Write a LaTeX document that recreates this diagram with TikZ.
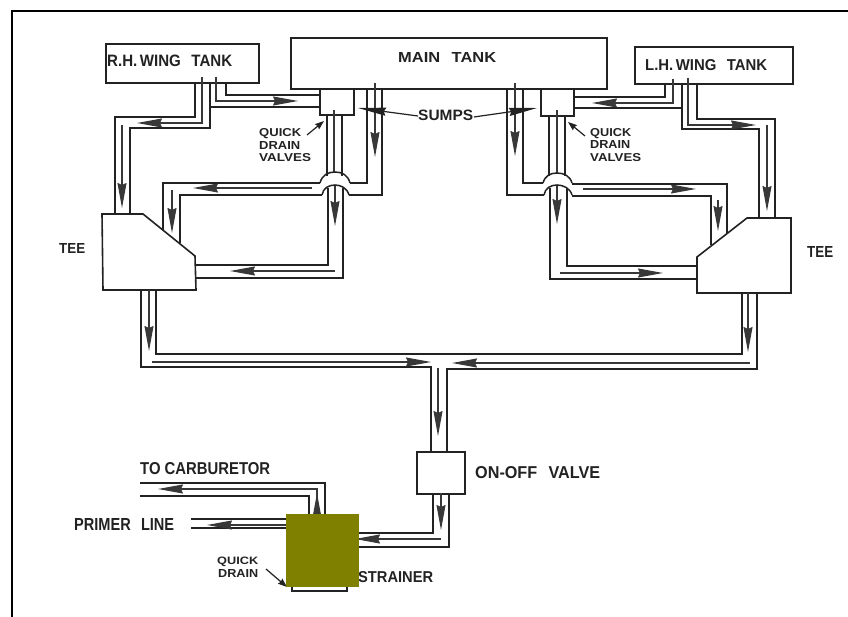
\documentclass[tikz,border=0pt]{standalone}
\usepackage{graphicx}
\usepackage{fontspec}
\setmainfont{Liberation Sans}
\usetikzlibrary{arrows.meta}
\definecolor{ink}{HTML}{222222}
\definecolor{oliveblock}{HTML}{808000}
\tikzset{
  x=1pt,y=-1pt,
  pipe/.style={draw=ink,line width=1.5pt,line join=miter},
  part/.style={draw=ink,line width=1.6pt,fill=white,inner sep=0pt,line join=miter},
  flow/.style={draw=ink!90,line width=1.2pt,-{Stealth[length=25pt,width=9pt,inset=2pt]}},
  flowonly/.style={draw=ink!90,line width=1.2pt},
  lead/.style={draw=ink,line width=1.2pt,-{Stealth[length=9pt,width=6.5pt,inset=1pt]}},
  sumplead/.style={draw=ink,line width=1.2pt,-{Stealth[length=28pt,width=8pt,inset=2pt]}},
  lbl/.style={anchor=base west,inner sep=0pt,text=ink},
}
% \tlabel{name}{x}{baseline y}{width}{cap height}{text}
\newcommand{\tlabel}[6]{\node[lbl] (#1) at (#2,#3) {\resizebox{#4pt}{#5pt}{\bfseries #6}};}
\newcommand{\partbox}[5]{\node[part,minimum width=#4pt,minimum height=#5pt,anchor=north west] (#1) at (#2,#3) {};}
\newcommand{\wgap}{\hspace{0.7em}}
\begin{document}
\begin{tikzpicture}
\useasboundingbox (0,0) rectangle (848,617);
\fill[white] (0,0) rectangle (848,617);
% frame
\draw[black,line width=2pt] (12,617) -- (12,11) -- (848,11);

% tanks
\partbox{rhtank}{105}{43}{153}{39}
\partbox{maintank}{290}{37}{316}{51}
\partbox{lhtank}{634}{46}{158}{37}
\partbox{sumpl}{319}{88}{34}{26}
\partbox{sumpr}{540}{88}{33}{27}

% tees
\draw[part] (102,214) -- (143,214) -- (195,256) -- (196,290) -- (103,290) -- cycle;
\draw[part] (697,257) -- (747,218) -- (791,218) -- (791,293) -- (697,293) -- cycle;

% ---- left upper piping
\draw[pipe] (195,82) -- (195,117) -- (115,117) -- (115,214);
\draw[pipe] (210,82) -- (210,128) -- (130,128) -- (130,214);
\draw[flowonly] (202,77) -- (202,123) -- (163,123);
\draw[flow] (165,123) -- (137,123);
\draw[flow] (122,125) -- (122,208);
\draw[pipe] (226,82) -- (226,95) -- (319,95);
\draw[pipe] (210,107) -- (319,107);
\draw[flow] (216,77) -- (216,101) -- (298,101);
% sump to crossover
\draw[pipe] (327,114) -- (327,176);
\draw[pipe] (342,114) -- (342,176);
\draw[flowonly] (334,110) -- (334,173);
\draw[pipe] (320,183) .. controls (322,175) and (328,172) .. (335,172) .. controls (342,172) and (348,175) .. (350,183);
\draw[pipe] (322,195) .. controls (323,188) and (329,185) .. (335,185) .. controls (341,185) and (347,188) .. (349,195);
\draw[pipe] (328,188) -- (328,265) -- (196,265);
\draw[pipe] (343,188) -- (343,278) -- (196,278);
\draw[flow] (335,186) -- (335,226);
\draw[flow] (335,271) -- (230,271);
\draw[pipe] (320,183) -- (163,183) -- (163,230);
\draw[pipe] (322,195) -- (180,195) -- (180,243);
\draw[flow] (312,188) -- (193,188);
\draw[flow] (172,190) -- (172,233);
\draw[pipe] (367,88) -- (367,183) -- (350,183);
\draw[pipe] (382,88) -- (382,195) -- (349,195);
\draw[flow] (375,83) -- (375,157);

% ---- right upper piping
\draw[pipe] (697,83) -- (697,119) -- (775,119) -- (775,218);
\draw[pipe] (682,83) -- (682,129) -- (759,129) -- (759,218);
\draw[flow] (688,78) -- (688,125) -- (756,125);
\draw[flow] (767,125) -- (767,211);
\draw[pipe] (665,83) -- (665,97) -- (573,97);
\draw[pipe] (682,108) -- (573,108);
\draw[flow] (673,79) -- (673,103) -- (592,103);
\draw[pipe] (549,115) -- (549,176);
\draw[pipe] (565,115) -- (565,176);
\draw[flowonly] (557,110) -- (557,173);
\draw[pipe] (543,183) .. controls (545,176) and (550,173) .. (557,173) .. controls (564,173) and (570,176) .. (572,183);
\draw[pipe] (544,195) .. controls (545,188) and (551,185) .. (557,185) .. controls (563,185) and (570,188) .. (572,195);
\draw[pipe] (550,188) -- (550,279) -- (697,279);
\draw[pipe] (567,188) -- (567,266) -- (697,266);
\draw[flow] (557,186) -- (557,224);
\draw[flow] (560,273) -- (663,273);
\draw[pipe] (572,184) -- (727,184) -- (727,233);
\draw[pipe] (572,196) -- (711,196) -- (711,245);
\draw[flow] (583,189) -- (696,189);
\draw[flow] (718,200) -- (718,231);
\draw[pipe] (507,88) -- (507,195) -- (544,195);
\draw[pipe] (523,88) -- (523,183) -- (543,183);
\draw[flow] (515,83) -- (515,156);

% ---- lower manifold
\draw[pipe] (141,290) -- (141,367) -- (431,367) -- (431,451);
\draw[pipe] (156,290) -- (156,354) -- (742,354) -- (742,293);
\draw[pipe] (757,293) -- (757,369) -- (447,369) -- (447,451);
\draw[flow] (149,290) -- (149,351);
\draw[flow] (152,362) -- (431,362);
\draw[flow] (748,293) -- (748,352);
\draw[flow] (750,363) -- (452,363);
\draw[flow] (438,368) -- (438,436);

% valve
\partbox{valve}{416}{451}{48}{42}
\draw[pipe] (433,493) -- (433,533) -- (355,533);
\draw[pipe] (449,493) -- (449,547) -- (355,547);
\draw[flow] (441,493) -- (441,530);
\draw[flow] (441,539) -- (355,539);

% carburetor and primer lines
\draw[pipe] (140,483) -- (325,483) -- (325,516);
\draw[pipe] (140,496) -- (309,496) -- (309,516);
\draw[flowonly] (317,516) -- (317,489) -- (185,489);
\draw[flow] (187,489) -- (158,489);
\draw[flow] (317,520) -- (317,493);
\draw[pipe] (191,519) -- (288,519);
\draw[pipe] (191,528) -- (288,528);
\draw[flow] (288,525) -- (207,525);

% strainer, drain
\partbox{strainer}{291}{540}{55}{50}
\draw[lead] (266,569) -- (287,587);

% leader arrows
\draw[lead] (307,135) -- (324,121);
\draw[lead] (585,136) -- (568,122);

% labels
\tlabel{tmain}{398}{63}{98}{10}{MAIN\wgap TANK}
\tlabel{trh}{107}{67}{125}{11.5}{R.H.\,WING\wgap TANK}
\tlabel{tlh}{645}{71}{122}{11}{L.H.\,WING\wgap TANK}
\tlabel{tsumps}{418}{121}{55}{10.5}{SUMPS}
\draw[sumplead] (418,116) -- (358,108);
\draw[sumplead] (474,117) -- (537,108);
\tlabel{tql}{259}{137}{42}{8}{QUICK}
\tlabel{tdl}{259}{150}{41}{8}{DRAIN}
\tlabel{tvl}{259}{162}{52}{8}{VALVES}
\tlabel{tqr}{590}{137}{41}{8}{QUICK}
\tlabel{tdr}{590}{149}{40}{8}{DRAIN}
\tlabel{tvr}{590}{162}{51}{8}{VALVES}
\tlabel{tteel}{59}{254}{26}{10}{TEE}
\tlabel{tteer}{807}{258}{26}{11}{TEE}
\tlabel{tonoff}{475}{478}{125}{12}{ON-OFF\wgap VALVE}
\tlabel{tcarb}{140}{474}{130}{12}{TO CARBURETOR}
\tlabel{tprimer}{74}{530}{100}{12}{PRIMER\wgap LINE}
\tlabel{tqs}{217}{564}{41}{7.5}{QUICK}
\tlabel{tds}{218}{577}{40}{8}{DRAIN}
\tlabel{tstrainer}{358}{582}{75}{11}{STRAINER}

% opaque block over the strainer
\fill[oliveblock] (286,514) rectangle (359,587);
\end{tikzpicture}
\end{document}
